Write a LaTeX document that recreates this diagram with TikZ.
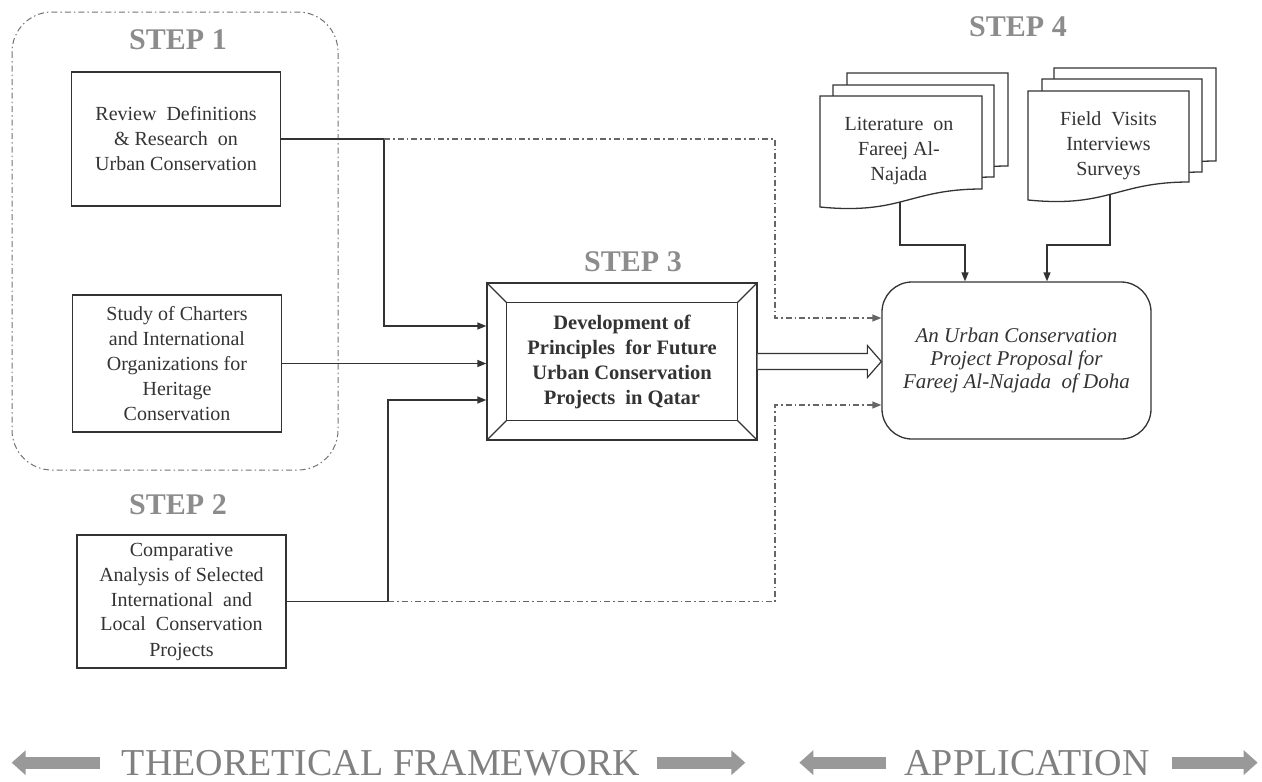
\documentclass[tikz,border=0pt]{standalone}
\usepackage{fontspec}
\setmainfont{Liberation Serif}
\usetikzlibrary{arrows.meta,calc}

% page of a document stack: left, top, right, bottom-left
\newcommand{\pagedoc}[4]{%
  \filldraw[fill=white, draw=black!80, line width=1.3pt]
    (#1,#2) -- (#3,#2) -- (#3,#4-18)
    .. controls (#1+0.55*#3-0.55*#1,#4-18) and (#1+0.5*#3-0.5*#1,#4+8) .. (#1,#4) -- cycle;}

\begin{document}
\begin{tikzpicture}[x=1pt,y=-1pt,
  every node/.style={font=\fontsize{20}{25}\selectfont, text=black!80},
  stepbox/.style={draw=black!80, line width=1.3pt, minimum width=209, minimum height=134, align=center, inner sep=2pt},
  steptitle/.style={font=\fontsize{30}{30}\selectfont\bfseries, text=black!45},
  arr/.style={draw=black!80, line width=1.3pt, -{Triangle[length=9pt,width=7pt]}},
  dd/.style={arr, draw=black!60, dash pattern=on 6pt off 3pt on 1.5pt off 3pt},
  band/.style={draw=black!40, line width=12pt, -{Triangle[length=14pt,width=24pt]}},
  bandtext/.style={font=\fontsize{38}{38}\selectfont, text=black!50, inner sep=0pt, anchor=base}]

\useasboundingbox (0,0) rectangle (1262,782);

% step 1 frame
\draw[black!55, line width=1pt, dash pattern=on 6pt off 3pt on 1.5pt off 3pt, rounded corners=40] (12,12) rectangle (338,470);

\node[steptitle] (s1) at (178,40) {STEP 1};
\node[stepbox] (rev) at (176,139) {Review\ \ Definitions\\ \& Research\ \ on\\ Urban Conservation};
\node[stepbox, minimum height=137] (stu) at (177,363.5) {Study of Charters\\ and International\\ Organizations for\\ Heritage\\ Conservation};
\node[steptitle] (s2) at (178,505) {STEP 2};
\node[stepbox, minimum height=133] (cmp) at (181.5,601.5) {Comparative\\ Analysis of Selected\\ International\ \ and\\ Local\ \ Conservation\\ Projects};

% step 3
\node[steptitle] (s3) at (633,262) {STEP 3};
\node[draw=black!80, line width=1.3pt, minimum width=270, minimum height=157, align=center,
  font=\fontsize{20.5}{25}\selectfont\bfseries] (dev) at (622,361.5)
  {Development of\\ Principles\ \ for Future\\ Urban Conservation\\ Projects\ \ in Qatar};
\draw[black!80, line width=1.3pt] ($(dev.north west)+(20,20)$) rectangle ($(dev.south east)+(-20,-20)$);
\foreach \c/\dx/\dy in {north west/20/20, north east/-20/20, south west/20/-20, south east/-20/-20}
  \draw[black!80, line width=1.3pt] (dev.\c) -- ++(\dx,\dy);

% step 4
\node[steptitle] (s4) at (1018,27) {STEP 4};
\pagedoc{847}{73}{1008}{184}
\pagedoc{833}{85}{994}{195}
\pagedoc{820}{96}{982}{207}
\node[minimum width=162, minimum height=111, align=center] (lit) at (899,151) {Literature\ \ on\\ Fareej Al-\\ Najada};
\pagedoc{1054}{68}{1216}{179}
\pagedoc{1042}{79}{1202}{190}
\pagedoc{1028}{91}{1189}{200}
\node[minimum width=161, minimum height=109, align=center] (fld) at (1108.5,145.5) {Field\ \ Visits\\ Interviews\\ Surveys};

\node[draw=black!80, line width=1.3pt, rounded corners=30, minimum width=269, minimum height=157, align=center,
  font=\fontsize{21}{23}\selectfont\itshape] (prop) at (1016.5,360.5)
  {An Urban Conservation\\ Project Proposal for\\ Fareej Al-Najada\ \ of Doha};

% connectors
\draw[arr] (rev.east) -| (384,326) -- (384,326 -| dev.west);
\draw[arr] (stu.east) -- (stu.east -| dev.west);
\draw[arr] (cmp.east) -| (388,400) -- (388,400 -| dev.west);
\draw[dd] (384,0 |- rev.east) -| (775,318) -- (775,318 -| prop.west);
\draw[dd] (388,0 |- cmp.east) -| (775,405) -- (775,405 -| prop.west);
\draw[arr] ($(lit.south)+(1,-5)$) |- (965,245) -- (965,245 |- prop.north);
\draw[arr] ($(fld.south)+(1.5,-6)$) |- (1047,245) -- (1047,245 |- prop.north);
\draw[black!80, line width=1.2pt, fill=white] ($(dev.east)+(0,-8)$) -- ($(dev.east -| prop.west)+(-14,-8)$)
  -- ++(0,-8) -- (dev.east -| prop.west) -- ++(-14,16) -- ++(0,-8) -- ($(dev.east)+(0,8)$);

% bottom band
\node[bandtext] (theo) at (381,775) {THEORETICAL FRAMEWORK};
\node[bandtext] (appl) at (1027,775) {APPLICATION};
\draw[band] ($(theo.west)+(-22,0)$) -- ++(-88,0);
\draw[band] ($(theo.east)+(17,0)$) -- ++(88,0);
\draw[band] ($(appl.west)+(-18,0)$) -- ++(-87,0);
\draw[band] ($(appl.east)+(22,0)$) -- ++(86,0);
\end{tikzpicture}
\end{document}
